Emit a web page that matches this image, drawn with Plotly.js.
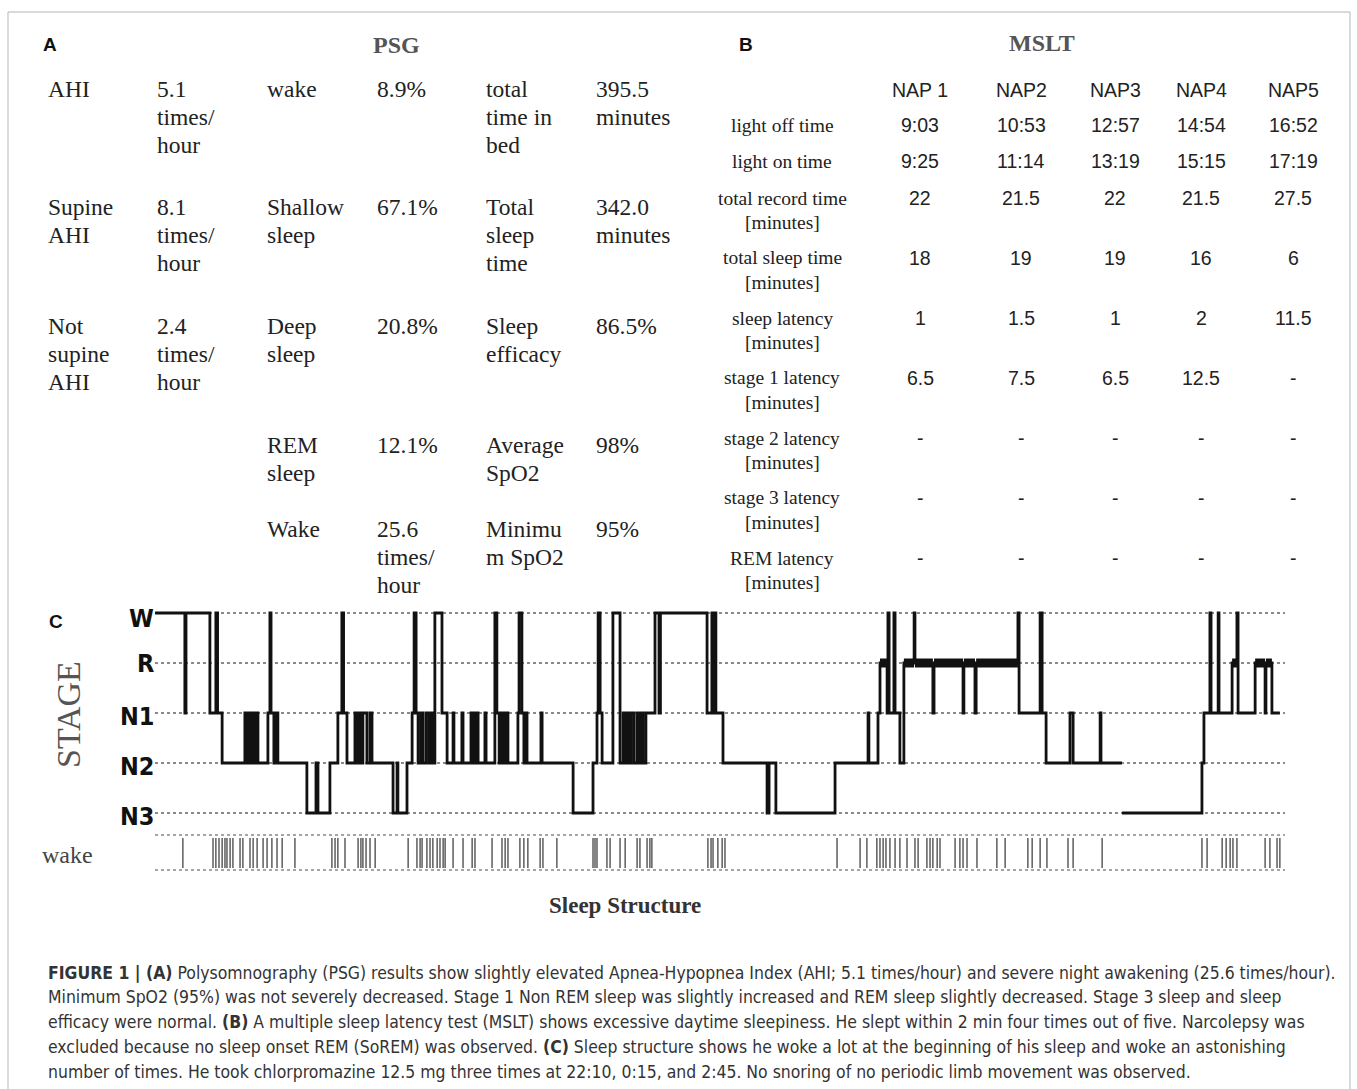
<!DOCTYPE html>
<html>
<head>
<meta charset="utf-8">
<script src="https://cdn.plot.ly/plotly-3.0.1.min.js"></script>
<style>html,body{margin:0;padding:0;background:#fff;}#chart{width:1357px;height:1089px;}</style>
</head>
<body>
<div id="chart"></div>
<script>
// ---------- Panel A: PSG table ----------
const psgCol1 = [["AHI"], ["Supine", "AHI"], ["Not", "supine", "AHI"]];
const psgCol2 = [["5.1", "times/", "hour"], ["8.1", "times/", "hour"], ["2.4", "times/", "hour"]];
const psgCol3 = [["wake"], ["Shallow", "sleep"], ["Deep", "sleep"], ["REM", "sleep"], ["Wake"]];
const psgCol4 = [["8.9%"], ["67.1%"], ["20.8%"], ["12.1%"], ["25.6", "times/", "hour"]];
const psgCol5 = [["total", "time in", "bed"], ["Total", "sleep", "time"], ["Sleep", "efficacy"], ["Average", "SpO2"], ["Minimu", "m SpO2"]];
const psgCol6 = [["395.5", "minutes"], ["342.0", "minutes"], ["86.5%"], ["98%"], ["95%"]];

// ---------- Panel B: MSLT table ----------
const napNames = ["NAP 1", "NAP2", "NAP3", "NAP4", "NAP5"];
const msltRowLabels = [["light off time"], ["light on time"], ["total record time", "[minutes]"],
  ["total sleep time", "[minutes]"], ["sleep latency", "[minutes]"], ["stage 1 latency", "[minutes]"],
  ["stage 2 latency", "[minutes]"], ["stage 3 latency", "[minutes]"], ["REM latency", "[minutes]"]];
const lightOff = ["9:03", "10:53", "12:57", "14:54", "16:52"];
const lightOn = ["9:25", "11:14", "13:19", "15:15", "17:19"];
const totalRecord = ["22", "21.5", "22", "21.5", "27.5"];
const totalSleep = ["18", "19", "19", "16", "6"];
const sleepLatency = ["1", "1.5", "1", "2", "11.5"];
const stage1Latency = ["6.5", "7.5", "6.5", "12.5", "-"];
const stage2Latency = ["-", "-", "-", "-", "-"];
const stage3Latency = ["-", "-", "-", "-", "-"];
const remLatency = ["-", "-", "-", "-", "-"];

// ---------- Panel C: hypnogram ----------
const stageNames = ["N3", "N2", "N1", "R", "W"]; // codes 0..4
// transition times (minutes from start) and stage code entered at that time
const hypTime = [0, 10.5, 10.9, 19.3, 21.4, 22.0, 23.6, 31.6, 32.0, 32.3, 32.7, 33.4, 33.8, 34.1, 34.6, 35.0, 35.5, 35.9, 36.2,
  39.7, 40.4, 40.8, 41.8, 42.5, 43.2, 53.4, 56.6, 57.3, 61.5, 64.3, 65.7, 66.3, 67.5, 70.3, 71.0, 71.4, 72.1, 72.4, 72.8, 73.1, 74.5, 75.6, 76.3,
  83.7, 85.1, 85.4, 88.6, 90.4, 91.1, 91.8, 92.5, 93.5, 94.2, 95.3, 96.3, 97.0, 97.7, 98.4, 100.9, 102.7, 104.8, 105.1, 107.9, 108.3,
  111.1, 111.5, 111.8, 112.2, 112.5, 112.9, 113.2, 113.6, 116.0, 116.4, 119.5, 120.2, 121.0, 121.3, 122.0, 122.4, 123.1, 123.4, 124.1,
  127.6, 128.0, 129.0, 129.7, 130.4, 130.8, 135.7, 136.1, 147.0, 154.0, 155.4, 155.8, 156.5, 157.2, 161.0, 163.5, 164.6, 165.3, 166.0,
  166.7, 167.4, 168.4, 169.5, 170.2, 170.9, 171.6, 172.6, 175.8, 177.2, 177.7, 194.1, 195.8, 196.2, 196.9, 197.2, 199.7, 215.2, 215.9,
  218.3, 239.1, 250.7, 251.0, 254.2, 254.9, 257.4, 257.7, 258.1, 259.8, 260.2, 261.9, 263.3, 266.9, 267.2, 273.5, 273.9, 284.1, 284.4,
  288.3, 288.7, 303.4, 303.8, 311.2, 311.9, 313.3, 321.7, 322.8, 332.3, 332.6, 340.0, 340.0, 340.0, 368.1, 368.8, 370.9, 371.3, 373.8,
  374.1, 378.7, 380.4, 380.8, 386.8, 390.3, 390.6, 392.7, 395.5];
const hypStage = [4, 2, 4, 2, 4, 2, 1, 2, 1, 2, 1, 2, 1, 2, 1, 2, 1, 2, 1,
  2, 4, 2, 1, 2, 1, 0, 1, 0, 1, 2, 4, 2, 1, 2, 1, 2, 1, 2, 1, 2, 1, 2, 1,
  0, 1, 0, 1, 2, 4, 2, 1, 2, 1, 2, 1, 2, 1, 4, 2, 1, 2, 1, 2, 1,
  2, 1, 2, 1, 2, 1, 2, 1, 2, 1, 4, 2, 1, 2, 1, 2, 1, 2, 1,
  2, 4, 2, 1, 2, 1, 2, 1, 0, 1, 2, 4, 2, 1, 4, 1, 2, 1, 2,
  1, 2, 1, 2, 1, 2, 1, 2, 4, 2, 4, 2, 4, 2, 4, 2, 1, 0, 1,
  0, 1, 2, 1, 2, 3, 2, 4, 2, 4, 2, 1, 3, 4, 3, 2, 3, 2, 3,
  2, 3, 4, 2, 4, 2, 1, 2, 1, 2, 1, 1, null, 0, 1, 2, 4, 2, 4,
  2, 3, 4, 2, 3, 2, 3, 2, 2];
// times of wake events (minutes) drawn in the "wake" row
const wakeTimes = [9.8, 20.4, 21.4, 22.5, 23.6, 24.6, 25.3, 26.4, 27.4, 29.9, 30.9, 33.4, 34.5, 35.9, 38.0, 39.4, 41.1, 42.9, 44.7,
  49.2, 62.2, 63.3, 64.3, 66.8, 71.4, 72.4, 73.1, 74.2, 75.6, 77.4, 89.0, 92.1, 93.2, 93.9, 95.6, 96.7, 97.7, 99.2, 100.2, 101.3,
  102.0, 104.8, 108.3, 111.5, 112.5, 118.5, 122.0, 123.1, 124.1, 128.3, 129.7, 131.1, 135.4, 136.4, 141.3, 154.0, 154.7, 155.4,
  158.9, 160.0, 163.5, 165.3, 169.5, 170.5, 173.0, 174.0, 174.7, 194.4, 195.5, 196.2, 197.9, 199.4, 200.4, 239.8, 247.9, 250.3,
  253.8, 254.9, 256.0, 257.0, 258.4, 260.2, 261.9, 264.4, 267.2, 268.3, 271.4, 272.5, 273.5, 275.0, 276.0, 281.3, 283.0, 284.1,
  285.5, 289.0, 296.0, 298.9, 306.9, 308.4, 311.2, 313.6, 321.0, 322.8, 333.0, 368.1, 369.9, 375.2, 376.6, 378.0, 379.0, 380.4,
  390.3, 392.0, 394.5, 395.5];

// ---------- Caption ----------
const captionLines = [
  "<b>FIGURE 1 | (A)</b> Polysomnography (PSG) results show slightly elevated Apnea-Hypopnea Index (AHI; 5.1 times/hour) and severe night awakening (25.6 times/hour).",
  "Minimum SpO2 (95%) was not severely decreased. Stage 1 Non REM sleep was slightly increased and REM sleep slightly decreased. Stage 3 sleep and sleep",
  "efficacy were normal. <b>(B)</b> A multiple sleep latency test (MSLT) shows excessive daytime sleepiness. He slept within 2 min four times out of five. Narcolepsy was",
  "excluded because no sleep onset REM (SoREM) was observed. <b>(C)</b> Sleep structure shows he woke a lot at the beginning of his sleep and woke an astonishing",
  "number of times. He took chlorpromazine 12.5 mg three times at 22:10, 0:15, and 2:45. No snoring of no periodic limb movement was observed."
];

// =====================================================================
const W = 1357, H = 1089;
const px = x => x / W;
const py = y => 1 - y / H;
const SERIF = "Liberation Serif, Times New Roman, serif";
const SANS = "Liberation Sans, Arial, sans-serif";
const NARROW = "DejaVu Sans Condensed, Arial Narrow, sans-serif";
const ann = [];
function text(t, x, y, opts) {
  ann.push(Object.assign({
    text: t, x: px(x), y: py(y), xref: "paper", yref: "paper", showarrow: false,
    xanchor: "left", yanchor: "middle", font: {family: SERIF, size: 23.5, color: "#222"}
  }, opts || {}));
}
function lines(arr, x, y0, step, opts) {
  arr.forEach((s, k) => text(s, x, y0 + k * step, opts));
}

// Panel letters and titles
const letterFont = {family: SANS, size: 19, color: "#111"};
text("<b>A</b>", 41, 45, {font: letterFont});
text("<b>B</b>", 737, 45, {font: letterFont});
text("<b>C</b>", 47, 621, {font: letterFont});
text("<b>PSG</b>", 396, 45, {xanchor: "center", font: {family: SERIF, size: 24, color: "#555"}});
text("<b>MSLT</b>", 1042, 43, {xanchor: "center", font: {family: SERIF, size: 24, color: "#555"}});

// Panel A table
const rowsA = [89, 207, 326, 445, 529];
const stepA = 28;
psgCol1.forEach((c, i) => lines(c, 46, rowsA[i], stepA));
psgCol2.forEach((c, i) => lines(c, 155, rowsA[i], stepA));
psgCol3.forEach((c, i) => lines(c, 265, rowsA[i], stepA));
psgCol4.forEach((c, i) => lines(c, 375, rowsA[i], stepA));
psgCol5.forEach((c, i) => lines(c, 484, rowsA[i], stepA));
psgCol6.forEach((c, i) => lines(c, 594, rowsA[i], stepA));

// Panel B table
const napX = [920, 1021, 1115, 1201, 1293];
const rowsB = [125, 161, 198, 258, 318, 378, 438, 498, 558];
const msltValues = [lightOff, lightOn, totalRecord, totalSleep, sleepLatency, stage1Latency, stage2Latency, stage3Latency, remLatency];
const numFont = {family: SANS, size: 19.5, color: "#222"};
napNames.forEach((n, j) => text(n, napX[j], 90, {xanchor: "center", font: numFont}));
msltRowLabels.forEach((lab, i) => lines(lab, 782, rowsB[i], 24.5, {xanchor: "center", font: {family: SERIF, size: 19.5, color: "#222"}}));
msltValues.forEach((row, i) => row.forEach((v, j) => text(v, napX[j], rowsB[i], {xanchor: "center", font: numFont})));

// Panel C labels
const stageLabelY = [816, 766, 716, 663, 618];
stageNames.forEach((s, i) => text("<b>" + s + "</b>", 156, stageLabelY[i], {xanchor: "right", font: {family: NARROW, size: 25, color: "#111"}}));
text("STAGE", 68, 715, {xanchor: "center", textangle: -90, font: {family: SERIF, size: 34, color: "#555"}});
text("wake", 40, 855, {font: {family: SERIF, size: 24, color: "#444"}});
text("<b>Sleep Structure</b>", 625, 905, {xanchor: "center", font: {family: SERIF, size: 23, color: "#333"}});

// Caption
const capY = [973, 997, 1022, 1047, 1072];
captionLines.forEach((c, i) => text(c, 46, capY[i], {font: {family: NARROW, size: 17.45, color: "#333"}}));

// ---------- traces ----------
const hyp = {
  x: hypTime, y: hypStage, type: "scatter", mode: "lines",
  line: {shape: "hv", color: "#111", width: 2.8}, connectgaps: false, hoverinfo: "skip"
};
// REM segments drawn thick (derived from the same data)
const remX = [], remY = [];
for (let i = 0; i < hypTime.length - 1; i++) {
  if (hypStage[i] === 3) { remX.push(hypTime[i], hypTime[i + 1], null); remY.push(3, 3, null); }
}
const rem = {x: remX, y: remY, type: "scatter", mode: "lines", line: {color: "#111", width: 9}, hoverinfo: "skip"};
const wx = [], wy = [];
wakeTimes.forEach(t => { wx.push(t, t, null); wy.push(-0.5, -1.1, null); });
const wake = {x: wx, y: wy, type: "scatter", mode: "lines", line: {color: "#444", width: 1.3}, hoverinfo: "skip"};

const xMax = 397.3;
const shapes = [
  {type: "rect", xref: "paper", yref: "paper", x0: px(8), x1: px(1350), y0: py(1100), y1: py(12), line: {color: "#b5b5b5", width: 1}},
  {type: "line", xref: "x", yref: "y", x0: 0, x1: xMax, y0: -0.44, y1: -0.44, line: {color: "#888", width: 1.5, dash: "dot"}},
  {type: "line", xref: "x", yref: "y", x0: 0, x1: xMax, y0: -1.14, y1: -1.14, line: {color: "#888", width: 1.5, dash: "dot"}}
];

const layout = {
  width: W, height: H, margin: {l: 0, r: 0, t: 0, b: 0},
  paper_bgcolor: "#fff", plot_bgcolor: "rgba(0,0,0,0)", showlegend: false,
  xaxis: {domain: [px(155), px(1285)], range: [0, xMax], showgrid: false, zeroline: false, showticklabels: false, showline: false, ticks: ""},
  yaxis: {domain: [py(880), py(600)], range: [-1.34, 4.26], tickvals: [0, 1, 2, 3, 4], showgrid: true,
    gridcolor: "#8a8a8a", gridwidth: 1.5, griddash: "dot", zeroline: false, showticklabels: false, showline: false, ticks: ""},
  annotations: ann, shapes: shapes
};
Plotly.newPlot("chart", [wake, hyp, rem], layout, {displayModeBar: false, staticPlot: true});
</script>
</body>
</html>
